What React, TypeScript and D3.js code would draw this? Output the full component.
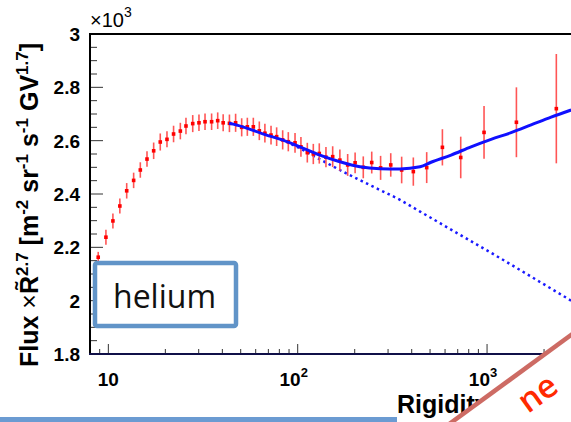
import React, { useRef, useEffect } from 'react';
import * as d3 from 'd3';

// measured points (rigidity in GV, flux x R^2.7 in units of 10^3)
const RIGIDITY = [
  8.84, 9.71, 10.57, 11.5, 12.5, 13.6, 14.75, 16.0, 17.35, 18.8, 20.4, 22.1, 24.0, 25.7,
  27.9, 30.1, 32.4, 35.1, 37.8, 40.4, 43.6, 47, 50.6, 54.2, 58.3, 62.7, 67.1, 72.3, 77.4,
  83.3, 89.2, 96.8, 104, 112.4, 120.9, 130, 141, 153, 167, 183.6, 201, 222, 246, 274, 310,
  354, 408, 480, 581, 726, 964, 1429, 2322,
];
const FLUX = [
  2.163, 2.238, 2.299, 2.355, 2.412, 2.451, 2.49, 2.531, 2.562, 2.595, 2.605, 2.625, 2.636, 2.655,
  2.664, 2.667, 2.671, 2.671, 2.675, 2.667, 2.665, 2.667, 2.65, 2.652, 2.652, 2.637, 2.628, 2.621, 2.615,
  2.603, 2.596, 2.592, 2.577, 2.555, 2.55, 2.552, 2.538, 2.54, 2.527, 2.509, 2.517, 2.5, 2.518, 2.498, 2.509,
  2.49, 2.484, 2.499, 2.575, 2.537, 2.631, 2.669, 2.72,
];
const FLUX_ERR = [
  0.02, 0.028, 0.028, 0.028, 0.029, 0.029, 0.029, 0.029, 0.031, 0.032, 0.03, 0.031, 0.031, 0.031,
  0.032, 0.031, 0.031, 0.031, 0.031, 0.032, 0.033, 0.034, 0.034, 0.034, 0.034, 0.035, 0.035, 0.035, 0.035,
  0.036, 0.036, 0.037, 0.037, 0.037, 0.038, 0.038, 0.038, 0.039, 0.04, 0.041, 0.039, 0.041, 0.041, 0.045, 0.044,
  0.05, 0.053, 0.058, 0.068, 0.078, 0.099, 0.131, 0.205,
];

// fit with spectral break (solid)
const FIT_R = [43.4, 45.6, 68.5, 80.6, 102.8, 131, 167, 213, 272, 347, 443, 506, 646, 823, 1050, 1339, 1709, 2179, 2780];
const FIT_V = [2.665, 2.662, 2.621, 2.606, 2.577, 2.546, 2.521, 2.502, 2.495, 2.494, 2.502, 2.519, 2.546, 2.577, 2.605, 2.63, 2.659, 2.688, 2.715];

// single power law (dotted)
const PL_R = [43.4, 63, 80.6, 102.8, 131, 167, 213, 272, 347, 443, 637, 1169, 1905, 2780];
const PL_V = [2.665, 2.634, 2.606, 2.571, 2.53, 2.49, 2.452, 2.415, 2.378, 2.334, 2.269, 2.16, 2.07, 2.0];

const Y_TICKS = [1.8, 2, 2.2, 2.4, 2.6, 2.8, 3];
const Y_LABELS = ['1.8', '2', '2.2', '2.4', '2.6', '2.8', '3'];
const X_MAJOR = [10, 100, 1000];
const X_EXP = ['', '2', '3'];

const App = () => {
  const svgRef = useRef(null);
  const width = 571;
  const height = 422;

  useEffect(() => {
    const svg = d3.select(svgRef.current);
    svg.selectAll('*').remove();

    const font = "'Liberation Sans', Arial, sans-serif";
    const x = d3.scaleLog().domain([8, 3000]).range([90, 577.4]);
    const y = d3.scaleLinear().domain([1.8, 3]).range([354, 34]);

    svg.append('rect').attr('width', width).attr('height', height).attr('fill', '#fff');

    // y ticks (inside the frame)
    const minorY = d3.range(1.85, 3, 0.05).filter(v => Math.abs(v * 5 - Math.round(v * 5)) > 0.01);
    svg.append('g')
      .selectAll('line')
      .data(minorY)
      .enter()
      .append('line')
      .attr('x1', 90).attr('x2', 97)
      .attr('y1', d => y(d)).attr('y2', d => y(d))
      .attr('stroke', '#333').attr('stroke-width', 1);
    svg.append('g')
      .selectAll('line')
      .data(Y_TICKS)
      .enter()
      .append('line')
      .attr('x1', 90).attr('x2', 103)
      .attr('y1', d => y(d)).attr('y2', d => y(d))
      .attr('stroke', '#333').attr('stroke-width', 1);
    svg.append('g')
      .selectAll('text')
      .data(Y_TICKS)
      .enter()
      .append('text')
      .attr('x', 80)
      .attr('y', d => y(d) + 7)
      .attr('text-anchor', 'end')
      .attr('font-family', font)
      .attr('font-weight', 'bold')
      .attr('font-size', 19)
      .text((d, i) => Y_LABELS[i]);

    // x ticks
    const minorX: number[] = [9];
    [10, 100, 1000].forEach(dec => {
      for (let k = 2; k <= 9; k++) if (dec * k < 3000) minorX.push(dec * k);
    });
    svg.append('g')
      .selectAll('line')
      .data(minorX)
      .enter()
      .append('line')
      .attr('x1', d => x(d)).attr('x2', d => x(d))
      .attr('y1', 354).attr('y2', 349)
      .attr('stroke', '#333');
    svg.append('g')
      .selectAll('line')
      .data(X_MAJOR)
      .enter()
      .append('line')
      .attr('x1', d => x(d)).attr('x2', d => x(d))
      .attr('y1', 354).attr('y2', 344)
      .attr('stroke', '#333');

    X_MAJOR.forEach((v, i) => {
      const t = svg.append('text')
        .attr('x', x(v) + (X_EXP[i] ? -4 : 0))
        .attr('y', 386)
        .attr('text-anchor', 'middle')
        .attr('font-family', font)
        .attr('font-weight', 'bold')
        .attr('font-size', 19);
      t.append('tspan').text('10');
      if (X_EXP[i]) t.append('tspan').attr('dy', -9).attr('font-size', 13).text(X_EXP[i]);
    });

    // frame
    svg.append('line').attr('x1', 90).attr('x2', 571).attr('y1', 34).attr('y2', 34)
      .attr('stroke', '#000').attr('stroke-width', 2);
    svg.append('line').attr('x1', 90).attr('x2', 90).attr('y1', 33).attr('y2', 355)
      .attr('stroke', '#000').attr('stroke-width', 2);
    svg.append('line').attr('x1', 89).attr('x2', 571).attr('y1', 354).attr('y2', 354)
      .attr('stroke', '#101048').attr('stroke-width', 2);

    // x10^3
    const mult = svg.append('text')
      .attr('x', 90).attr('y', 27)
      .attr('font-family', font).attr('font-size', 20);
    mult.append('tspan').text('×10');
    mult.append('tspan').attr('dy', -10).attr('font-size', 14).text('3');

    // fit curves
    const line = d3.line().curve(d3.curveMonotoneX);
    const plPts = PL_R.map((r, i) => [x(r), y(PL_V[i])]);
    const fitPts = FIT_R.map((r, i) => [x(r), y(FIT_V[i])]);
    svg.append('path')
      .attr('d', line(plPts))
      .attr('fill', 'none')
      .attr('stroke', '#1a1aff')
      .attr('stroke-width', 2.5)
      .attr('stroke-dasharray', '2.5,3.5');

    // data
    const pts = svg.append('g');
    RIGIDITY.forEach((r, i) => {
      pts.append('line')
        .attr('x1', x(r)).attr('x2', x(r))
        .attr('y1', y(FLUX[i] - FLUX_ERR[i])).attr('y2', y(FLUX[i] + FLUX_ERR[i]))
        .attr('stroke', '#ff5555').attr('stroke-width', 1.6);
      pts.append('rect')
        .attr('x', x(r) - 1.8).attr('y', y(FLUX[i]) - 1.8)
        .attr('width', 3.6).attr('height', 3.6)
        .attr('fill', '#ff0000');
    });

    svg.append('path')
      .attr('d', line(fitPts))
      .attr('fill', 'none')
      .attr('stroke', '#1010ff')
      .attr('stroke-width', 3);

    // y title
    const yt = svg.append('text')
      .attr('transform', 'translate(38,367) rotate(-90)')
      .attr('font-family', font)
      .attr('font-weight', 'bold')
      .attr('font-size', 25);
    const parts = [
      ['Flux ', 0], ['×', 2], ['R\u0303', 0], ['2.7', 1], [' [m', 0], ['-2', 1], [' sr', 0], ['-1', 1],
      [' s', 0], ['-1', 1], [' GV', 0], ['1.7', 1], [']', 0],
    ];
    let up = false;
    parts.forEach(([s, kind]) => {
      const ts = yt.append('tspan').text(s as string);
      if (kind === 1) {
        ts.attr('dy', up ? 0 : -10).attr('font-size', 17);
        up = true;
      } else {
        if (up) ts.attr('dy', 10);
        up = false;
        if (kind === 2) ts.attr('font-weight', 'normal');
      }
    });

    // x title
    svg.append('text')
      .attr('x', 397).attr('y', 413)
      .attr('font-family', font).attr('font-weight', 'bold').attr('font-size', 25)
      .text('Rigidity [GV]');

    // helium label box
    svg.append('rect')
      .attr('x', 95).attr('y', 263).attr('width', 141).attr('height', 63).attr('rx', 2)
      .attr('fill', '#fff').attr('stroke', '#6194c8').attr('stroke-width', 4.5);
    svg.append('text')
      .attr('x', 113).attr('y', 308)
      .attr('font-family', "'Open Sans', sans-serif").attr('font-size', 32).attr('fill', '#111')
      .text('helium');

    // slide decorations
    svg.append('rect').attr('x', 0).attr('y', 417).attr('width', 397).attr('height', 6).attr('fill', '#6b9bd2');
    svg.append('polygon')
      .attr('points', '619,300 400,460 700,460 700,300')
      .attr('fill', '#fff');
    svg.append('line')
      .attr('x1', 619).attr('y1', 300).attr('x2', 400).attr('y2', 460)
      .attr('stroke', '#cd6b64').attr('stroke-width', 4.5);
    svg.append('text')
      .attr('transform', 'translate(528,414) rotate(-36)')
      .attr('font-family', "'Open Sans', sans-serif").attr('font-weight', 600)
      .attr('font-size', 33).attr('fill', '#ff2a00')
      .text('ne');
  }, []);

  return (
    <svg
      ref={svgRef}
      width={width}
      height={height}
      style={{ position: 'absolute', left: 0, top: 0, display: 'block' }}
    />
  );
};

export default App;
